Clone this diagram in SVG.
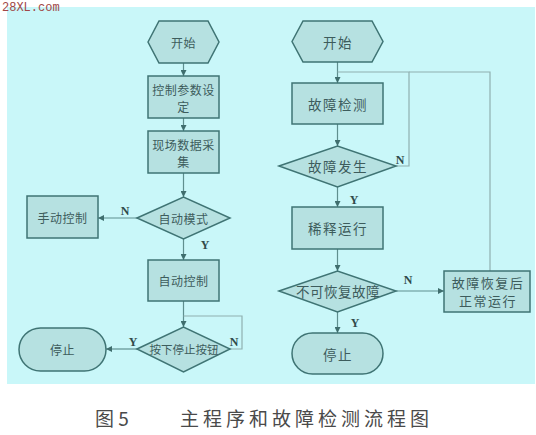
<svg xmlns="http://www.w3.org/2000/svg" width="536" height="435" viewBox="0 0 536 435">
<defs>
<marker id="arr" viewBox="0 0 8 8" refX="8" refY="4" markerWidth="6" markerHeight="6" orient="auto" markerUnits="userSpaceOnUse">
<path d="M0,0 L8,4 L0,8 z" fill="#3f6e6e"/>
</marker>
<style>
.nd{fill:#b6e1e1;stroke:#3f7474;stroke-width:1.5}
.t{font-family:"Noto Sans CJK SC","Noto Sans",sans-serif;fill:#3d5c5c;text-anchor:middle;dominant-baseline:central}
.s{font-size:12px;letter-spacing:0.5px}
.b{font-size:13.5px;letter-spacing:1.5px}
.yn{font-family:"Liberation Serif",serif;font-weight:bold;font-size:12px;fill:#2f4a4a;text-anchor:middle}
.ln{fill:none;stroke:#5f8f8f;stroke-width:1.2}
.lp{fill:none;stroke:#8fb0b0;stroke-width:1.2}
.cap{font-family:"Noto Sans CJK SC","Noto Sans",sans-serif;font-size:19px;fill:#4a4a4a}
</style>
</defs>
<rect x="0" y="0" width="536" height="435" fill="#ffffff"/>
<rect x="7" y="7" width="528" height="377" fill="#c9f7f9"/>
<text x="2" y="11" font-family="Liberation Mono,monospace" font-size="12" fill="#a04848">28XL.com</text>

<g id="connectors">
<line class="ln" x1="183.5" y1="63" x2="183.5" y2="76" marker-end="url(#arr)"/>
<line class="ln" x1="183.5" y1="118" x2="183.5" y2="131" marker-end="url(#arr)"/>
<line class="ln" x1="183.5" y1="173" x2="183.5" y2="197" marker-end="url(#arr)"/>
<line class="ln" x1="137" y1="218" x2="98" y2="218" marker-end="url(#arr)"/>
<line class="ln" x1="183.5" y1="239" x2="183.5" y2="260" marker-end="url(#arr)"/>
<line class="ln" x1="183.5" y1="301" x2="183.5" y2="327" marker-end="url(#arr)"/>
<polyline class="lp" points="230,349 242,349 242,316 183.5,316"/>
<line class="ln" x1="137" y1="349" x2="106" y2="349" marker-end="url(#arr)"/>

<line class="ln" x1="337.5" y1="62" x2="337.5" y2="83" marker-end="url(#arr)"/>
<line class="ln" x1="337.5" y1="124" x2="337.5" y2="146" marker-end="url(#arr)"/>
<polyline class="lp" points="396,166 409,166 409,72 337.5,72"/>
<polyline class="lp" points="490,271 490,72 409,72"/>
<line class="ln" x1="337.5" y1="187" x2="337.5" y2="207" marker-end="url(#arr)"/>
<line class="ln" x1="337.5" y1="249" x2="337.5" y2="271" marker-end="url(#arr)"/>
<line class="ln" x1="396" y1="291" x2="444" y2="291" marker-end="url(#arr)"/>
<line class="ln" x1="337.5" y1="312" x2="337.5" y2="333" marker-end="url(#arr)"/>

<text class="yn" x="125" y="215">N</text>
<text class="yn" x="205" y="249">Y</text>
<text class="yn" x="133" y="346">Y</text>
<text class="yn" x="234" y="346">N</text>
<text class="yn" x="400" y="164">N</text>
<text class="yn" x="354" y="204">Y</text>
<text class="yn" x="408" y="284">N</text>
<text class="yn" x="355" y="327">Y</text>
</g>

<g id="start1">
<polygon class="nd" points="148,42 159,21 208,21 219,42 208,63 159,63"/>
<text class="t s" x="183.5" y="42">开始</text>
</g>
<g id="param">
<rect class="nd" x="148" y="76" width="71" height="42"/>
<text class="t s" x="183.5" y="89">控制参数设</text>
<text class="t s" x="183.5" y="106">定</text>
</g>
<g id="collect">
<rect class="nd" x="148" y="131" width="71" height="42"/>
<text class="t s" x="183.5" y="144">现场数据采</text>
<text class="t s" x="183.5" y="161">集</text>
</g>
<g id="automode">
<polygon class="nd" points="137,218 183.5,197 230,218 183.5,239"/>
<text class="t s" x="183.5" y="218">自动模式</text>
</g>
<g id="manual">
<rect class="nd" x="27" y="196" width="71" height="42"/>
<text class="t s" x="62.5" y="217">手动控制</text>
</g>
<g id="autoctl">
<rect class="nd" x="148" y="260" width="71" height="41"/>
<text class="t s" x="183.5" y="280.5">自动控制</text>
</g>
<g id="stopbtn">
<polygon class="nd" points="137,349 183.5,327 230,349 183.5,372"/>
<text class="t" x="184" y="349" font-size="11.5">按下停止按钮</text>
</g>
<g id="stop1">
<rect class="nd" x="19" y="328" width="87" height="43" rx="21.5" ry="21.5"/>
<text class="t s" x="62.5" y="349.5">停止</text>
</g>

<g id="start2">
<polygon class="nd" points="292,41.5 303,21 372,21 383,41.5 372,62 303,62"/>
<text class="t b" x="338" y="41.5">开始</text>
</g>
<g id="detect">
<rect class="nd" x="292" y="83" width="91" height="41"/>
<text class="t b" x="338" y="103.5">故障检测</text>
</g>
<g id="fault">
<polygon class="nd" points="279,166 337.5,146 396,166 337.5,187"/>
<text class="t b" x="338" y="166">故障发生</text>
</g>
<g id="dilute">
<rect class="nd" x="292" y="207" width="91" height="42"/>
<text class="t b" x="338" y="228">稀释运行</text>
</g>
<g id="unrecov">
<polygon class="nd" points="279,291 337.5,271 396,291 337.5,312"/>
<text class="t" x="338" y="291" font-size="13.5" letter-spacing="0.5">不可恢复故障</text>
</g>
<g id="recover">
<rect class="nd" x="444" y="271" width="86" height="41"/>
<text class="t" x="488" y="282" font-size="13" letter-spacing="1.5">故障恢复后</text>
<text class="t" x="488" y="300.5" font-size="13" letter-spacing="1.5">正常运行</text>
</g>
<g id="stop2">
<rect class="nd" x="292" y="333" width="91" height="41" rx="20.5" ry="20.5"/>
<text class="t b" x="338" y="353.5">停止</text>
</g>

<text class="cap" x="95" y="426">图 5</text>
<text class="cap" x="180" y="426" letter-spacing="4">主程序和故障检测流程图</text>
</svg>
